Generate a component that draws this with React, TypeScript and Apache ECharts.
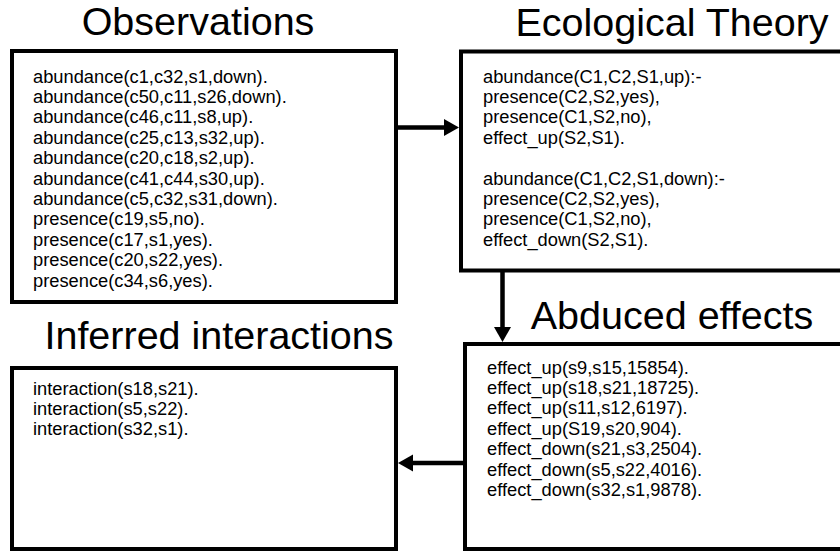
import React, { useEffect, useRef } from "react";
import * as echarts from "echarts";

const titles = ["Observations", "Ecological Theory", "Abduced effects", "Inferred interactions"];

const observations = [
  "abundance(c1,c32,s1,down).",
  "abundance(c50,c11,s26,down).",
  "abundance(c46,c11,s8,up).",
  "abundance(c25,c13,s32,up).",
  "abundance(c20,c18,s2,up).",
  "abundance(c41,c44,s30,up).",
  "abundance(c5,c32,s31,down).",
  "presence(c19,s5,no).",
  "presence(c17,s1,yes).",
  "presence(c20,s22,yes).",
  "presence(c34,s6,yes).",
];

const theory = [
  "abundance(C1,C2,S1,up):-",
  "presence(C2,S2,yes),",
  "presence(C1,S2,no),",
  "effect_up(S2,S1).",
  "",
  "abundance(C1,C2,S1,down):-",
  "presence(C2,S2,yes),",
  "presence(C1,S2,no),",
  "effect_down(S2,S1).",
];

const abduced = [
  "effect_up(s9,s15,15854).",
  "effect_up(s18,s21,18725).",
  "effect_up(s11,s12,6197).",
  "effect_up(S19,s20,904).",
  "effect_down(s21,s3,2504).",
  "effect_down(s5,s22,4016).",
  "effect_down(s32,s1,9878).",
];

const interactions = [
  "interaction(s18,s21).",
  "interaction(s5,s22).",
  "interaction(s32,s1).",
];

const FONT = '"Liberation Sans", Arial, sans-serif';

export default function App() {
  const ref = useRef<HTMLDivElement>(null);
  useEffect(() => {
    document.body.style.margin = "0";
    const chart = echarts.init(ref.current!, null, { renderer: "svg" });
    const LW = 4;
    const LH = 20.4;
    const elements: any[] = [];

    const box = (x: number, y: number, w: number, h: number) => ({
      type: "rect",
      shape: { x, y, width: w, height: h },
      style: { fill: "#fff", stroke: "#000", lineWidth: LW },
      z: 1,
    });
    const lines = (arr: string[], x: number, y0: number) =>
      arr.map((t, i) => ({
        type: "text",
        x,
        y: y0 + i * LH,
        z: 3,
        style: {
          text: t,
          fill: "#000",
          fontSize: 18.3,
          fontFamily: FONT,
          align: "left",
          verticalAlign: "middle",
        },
      }));
    const title = (t: string, cx: number, cy: number) => ({
      type: "text",
      x: cx,
      y: cy,
      z: 3,
      style: {
        text: t,
        fill: "#000",
        fontSize: 39.5,
        fontFamily: FONT,
        align: "center",
        verticalAlign: "middle",
      },
    });
    const arrowLine = (x1: number, y1: number, x2: number, y2: number) => ({
      type: "line",
      shape: { x1, y1, x2, y2 },
      style: { stroke: "#000", lineWidth: 4.5 },
      z: 2,
    });
    const head = (pts: number[][]) => ({
      type: "polygon",
      shape: { points: pts },
      style: { fill: "#000" },
      z: 2,
    });

    // boxes
    elements.push(box(12, 51, 384, 251));
    elements.push(box(461, 51.5, 440, 219));
    elements.push(box(465, 344, 440, 205));
    elements.push(box(12, 368, 384, 181));

    // titles
    elements.push(title(titles[0], 198, 21));
    elements.push(title(titles[1], 672, 22));
    elements.push(title(titles[2], 672, 315));
    elements.push(title(titles[3], 219, 335));

    // text
    elements.push(...lines(observations, 33, 76));
    elements.push(...lines(theory, 483, 76));
    elements.push(...lines(abduced, 487, 367));
    elements.push(...lines(interactions, 33, 388));

    // arrows
    elements.push(arrowLine(398, 127.5, 446, 127.5));
    elements.push(head([[444, 119], [459, 127.5], [444, 136]]));
    elements.push(arrowLine(502.5, 272, 502.5, 328));
    elements.push(head([[494, 327], [502.5, 342], [511, 327]]));
    elements.push(arrowLine(463, 463, 412, 463));
    elements.push(head([[413, 454.5], [398, 463], [413, 471.5]]));

    chart.setOption({
      animation: false,
      backgroundColor: "#fff",
      graphic: { elements },
    });
    return () => chart.dispose();
  }, []);
  return (
    <div
      ref={ref}
      style={{ position: "fixed", left: 0, top: 0, width: 840, height: 552 }}
    />
  );
}
